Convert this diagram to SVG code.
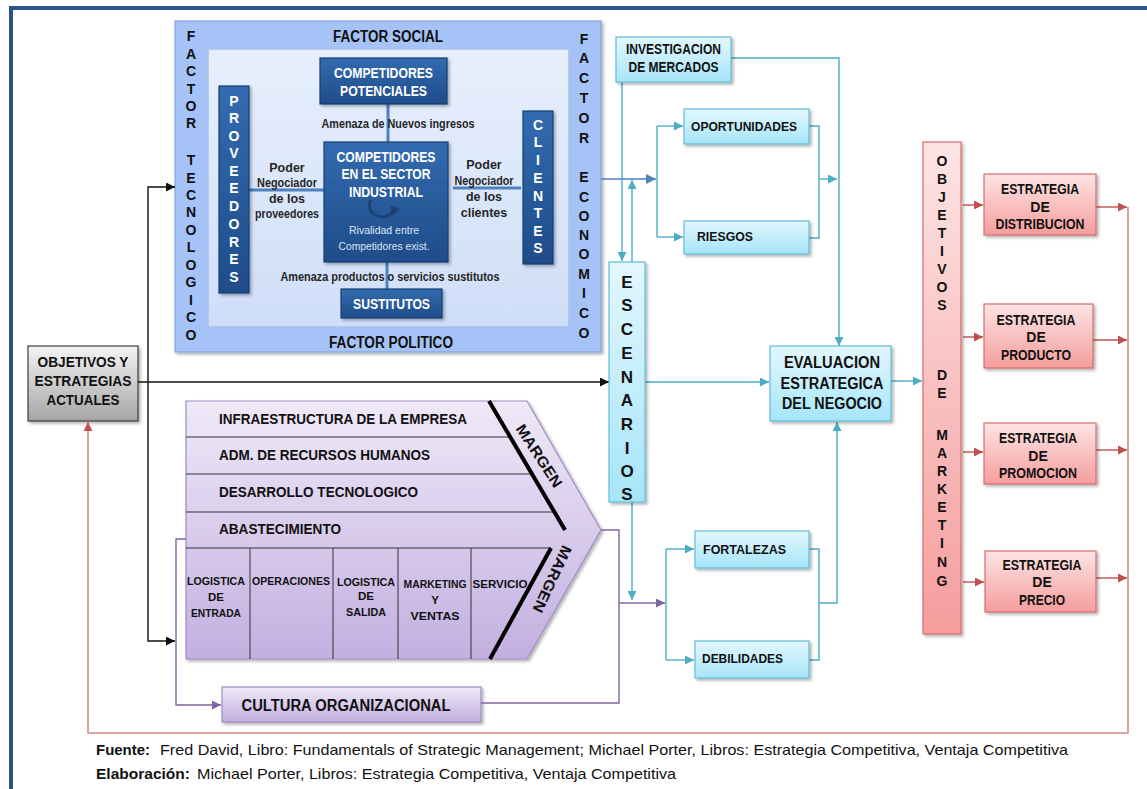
<svg xmlns="http://www.w3.org/2000/svg" width="1147" height="789" viewBox="0 0 1147 789">
  <style>
    text { font-family: "Liberation Sans", Arial, sans-serif; font-weight: bold; fill: #111; }
    .mid { text-anchor: middle; }
    .wh { fill: #fff; }
    .nrm { font-weight: normal; }
    .lbl { fill: #262626; font-size: 12.5px; text-anchor: middle; }
    .riv { fill: #dbe5f3; font-weight: normal; font-size: 11.5px; text-anchor: middle; }
    .vl14 { font-size: 14px; text-anchor: middle; }
    .cy { fill: url(#gCyan); stroke: #62bcd8; stroke-width: 1.2; filter: url(#sh); }
    .pk { fill: url(#gPink); stroke: #d96c6c; stroke-width: 1.2; filter: url(#sh); }
    .dk { fill: url(#gDark); stroke: #173f72; stroke-width: 1.2; filter: url(#sh); }
    .pu { fill: url(#gPurple); stroke: #9d8bc5; stroke-width: 1.2; filter: url(#sh); }
    .ln { fill: none; stroke-width: 1.4; }
    .k { stroke: #111; }
    .c { stroke: #4bacc6; }
    .b { stroke: #4f81bd; }
    .r { stroke: #c0504d; }
    .rl { stroke: #d98886; stroke-width: 1.6; }
    .p { stroke: #8064a2; }
    .por { fill: none; stroke: #4f81bd; stroke-width: 3; }
    .row { stroke: #333; stroke-width: 1; fill: none; }
    .col { font-size: 11.5px; text-anchor: middle; }
  </style>
  <defs>
    <filter id="sh" x="-10%" y="-10%" width="130%" height="130%">
      <feDropShadow dx="2" dy="2" stdDeviation="1.4" flood-color="#000" flood-opacity="0.3"/>
    </filter>
    <linearGradient id="gCyan" x1="0" y1="0" x2="0" y2="1">
      <stop offset="0" stop-color="#e3f7fd"/><stop offset="1" stop-color="#a6e5f9"/>
    </linearGradient>
    <linearGradient id="gPink" x1="0" y1="0" x2="0" y2="1">
      <stop offset="0" stop-color="#fde4e4"/><stop offset="1" stop-color="#f59d9d"/>
    </linearGradient>
    <linearGradient id="gGray" x1="0" y1="0" x2="0" y2="1">
      <stop offset="0" stop-color="#f4f4f4"/><stop offset="1" stop-color="#a5a5a5"/>
    </linearGradient>
    <linearGradient id="gPurple" x1="0" y1="0" x2="0" y2="1">
      <stop offset="0" stop-color="#efe9f8"/><stop offset="1" stop-color="#c3afe0"/>
    </linearGradient>
    <linearGradient id="gDark" x1="0" y1="0" x2="0" y2="1">
      <stop offset="0" stop-color="#336bb0"/><stop offset="1" stop-color="#1f4c89"/>
    </linearGradient>
    <linearGradient id="gInner" x1="0" y1="0" x2="0" y2="1">
      <stop offset="0" stop-color="#e7effc"/><stop offset="1" stop-color="#cfdef8"/>
    </linearGradient>
    <marker id="aK" viewBox="0 0 10 10" refX="10" refY="5" markerWidth="9" markerHeight="9" markerUnits="userSpaceOnUse" orient="auto"><path d="M0,0 L10,5 L0,10 z" fill="#111"/></marker>
    <marker id="aC" viewBox="0 0 10 10" refX="10" refY="5" markerWidth="9" markerHeight="9" markerUnits="userSpaceOnUse" orient="auto"><path d="M0,0 L10,5 L0,10 z" fill="#4bacc6"/></marker>
    <marker id="aB" viewBox="0 0 10 10" refX="10" refY="5" markerWidth="10" markerHeight="10" markerUnits="userSpaceOnUse" orient="auto"><path d="M0,0 L10,5 L0,10 z" fill="#4f81bd"/></marker>
    <marker id="aR" viewBox="0 0 10 10" refX="10" refY="5" markerWidth="9" markerHeight="9" markerUnits="userSpaceOnUse" orient="auto"><path d="M0,0 L10,5 L0,10 z" fill="#c0504d"/></marker>
    <marker id="aP" viewBox="0 0 10 10" refX="10" refY="5" markerWidth="9" markerHeight="9" markerUnits="userSpaceOnUse" orient="auto"><path d="M0,0 L10,5 L0,10 z" fill="#8064a2"/></marker>
  </defs>

  <rect width="1147" height="789" fill="#fff"/>
  <!-- page frame -->
  <rect x="9" y="6" width="1138" height="4" fill="#2b5487"/>
  <rect x="9" y="6" width="4" height="783" fill="#2b5487"/>

  <!-- environment factors around Porter's five forces -->
  <g id="factores">
    <rect x="175" y="21" width="426" height="331" fill="#a5c3f6" stroke="#84a5dd" stroke-width="1.2" filter="url(#sh)"/>
    <rect x="208" y="49" width="361" height="278" fill="url(#gInner)" stroke="#a9c1ec" stroke-width="1.5"/>
    <text x="388" y="42" class="mid" font-size="16" textLength="110" lengthAdjust="spacingAndGlyphs">FACTOR SOCIAL</text>
    <text x="391" y="348" class="mid" font-size="16" textLength="124" lengthAdjust="spacingAndGlyphs">FACTOR POLITICO</text>
    <g class="vl14">
      <text x="191" y="41">F</text><text x="191" y="59">A</text><text x="191" y="76">C</text>
      <text x="191" y="94">T</text><text x="191" y="111">O</text><text x="191" y="128">R</text>
      <text x="191" y="165">T</text><text x="191" y="183">E</text><text x="191" y="200">C</text>
      <text x="191" y="217">N</text><text x="191" y="235">O</text><text x="191" y="252">L</text>
      <text x="191" y="270">O</text><text x="191" y="287">G</text><text x="191" y="305">I</text>
      <text x="191" y="322">C</text><text x="191" y="340">O</text>
      <text x="584" y="44">F</text><text x="584" y="63">A</text><text x="584" y="83">C</text>
      <text x="584" y="103">T</text><text x="584" y="123">O</text><text x="584" y="143">R</text>
      <text x="584" y="182">E</text><text x="584" y="202">C</text><text x="584" y="221">O</text>
      <text x="584" y="240">N</text><text x="584" y="259">O</text><text x="584" y="279">M</text>
      <text x="584" y="298">I</text><text x="584" y="318">C</text><text x="584" y="338">O</text>
    </g>
    <!-- five forces connectors -->
    <path class="por" d="M388,104 V142 M387,262 V289 M249,190 H324 M453,188 H521"/>
    <text x="398" y="127.7" class="lbl" font-size="13" textLength="153" lengthAdjust="spacingAndGlyphs">Amenaza  de  Nuevos ingresos</text>
    <text x="390" y="280.7" class="lbl" font-size="13" textLength="219" lengthAdjust="spacingAndGlyphs">Amenaza  productos  o servicios  sustitutos</text>
    <text class="lbl"><tspan x="287" y="171.5">Poder</tspan><tspan x="287" y="186.5" textLength="60" lengthAdjust="spacingAndGlyphs">Negociador</tspan><tspan x="287" y="202.5">de los</tspan><tspan x="287" y="217.5" textLength="64" lengthAdjust="spacingAndGlyphs">proveedores</tspan></text>
    <text class="lbl"><tspan x="484" y="168.5">Poder</tspan><tspan x="484" y="184.5" textLength="59" lengthAdjust="spacingAndGlyphs">Negociador</tspan><tspan x="484" y="200.5">de los</tspan><tspan x="484" y="216.5">clientes</tspan></text>
  </g>

  <g id="proveedores">
    <rect x="219" y="86" width="30" height="207" class="dk"/>
    <g class="vl14">
      <text x="234" y="106" class="wh">P</text><text x="234" y="123" class="wh">R</text><text x="234" y="141" class="wh">O</text>
      <text x="234" y="158" class="wh">V</text><text x="234" y="176" class="wh">E</text><text x="234" y="193" class="wh">E</text>
      <text x="234" y="211" class="wh">D</text><text x="234" y="229" class="wh">O</text><text x="234" y="247" class="wh">R</text>
      <text x="234" y="264" class="wh">E</text><text x="234" y="282" class="wh">S</text>
    </g>
  </g>

  <g id="clientes">
    <rect x="523" y="111" width="30" height="153" class="dk"/>
    <g class="vl14">
      <text x="538" y="130" class="wh">C</text><text x="538" y="147" class="wh">L</text><text x="538" y="165" class="wh">I</text>
      <text x="538" y="183" class="wh">E</text><text x="538" y="201" class="wh">N</text><text x="538" y="218" class="wh">T</text>
      <text x="538" y="236" class="wh">E</text><text x="538" y="253" class="wh">S</text>
    </g>
  </g>

  <g id="potenciales">
    <rect x="320" y="58" width="127" height="46" class="dk"/>
    <text x="383.5" y="78.4" class="mid wh" font-size="15" textLength="99" lengthAdjust="spacingAndGlyphs">COMPETIDORES</text>
    <text x="383.5" y="96.4" class="mid wh" font-size="15" textLength="87" lengthAdjust="spacingAndGlyphs">POTENCIALES</text>
  </g>

  <g id="sector">
    <rect x="324" y="142" width="124" height="120" class="dk"/>
    <text x="386" y="162.4" class="mid wh" font-size="15" textLength="99" lengthAdjust="spacingAndGlyphs">COMPETIDORES</text>
    <text x="386" y="179.4" class="mid wh" font-size="15" textLength="89" lengthAdjust="spacingAndGlyphs">EN EL SECTOR</text>
    <text x="386" y="197.4" class="mid wh" font-size="15" textLength="74" lengthAdjust="spacingAndGlyphs">INDUSTRIAL</text>
    <path d="M371,200 A13,11 0 0 0 394,211" fill="none" stroke="#1c3d69" stroke-width="3" opacity="0.8"/>
    <path d="M390,205 L400,209 L392,216 z" fill="#1c3d69" opacity="0.8"/>
    <text x="384" y="234" class="riv" textLength="70" lengthAdjust="spacingAndGlyphs">Rivalidad entre</text>
    <text x="384" y="250" class="riv" textLength="91" lengthAdjust="spacingAndGlyphs">Competidores  exist.</text>
  </g>

  <g id="sustitutos">
    <rect x="341" y="289" width="101" height="29" class="dk"/>
    <text x="391.5" y="309.4" class="mid wh" font-size="15" textLength="77" lengthAdjust="spacingAndGlyphs">SUSTITUTOS</text>
  </g>

  <!-- value chain -->
  <g id="cadena-valor">
    <path d="M186,401 H527 L601,530 L527,659 H186 Z" class="pu"/>
    <path class="row" d="M186,437 H510 M186,474 H532 M186,512 H554 M186,548 H551 M250,548 V659 M333,548 V659 M398,548 V659 M471,548 V659"/>
    <path d="M489,401 L565,530 M551,548 L490,659" stroke="#000" stroke-width="4" fill="none"/>
    <g font-size="15">
      <text x="219" y="424.4" textLength="248" lengthAdjust="spacingAndGlyphs">INFRAESTRUCTURA DE LA EMPRESA</text>
      <text x="219" y="460.4" textLength="211" lengthAdjust="spacingAndGlyphs">ADM. DE RECURSOS HUMANOS</text>
      <text x="219" y="497.4" textLength="199" lengthAdjust="spacingAndGlyphs">DESARROLLO TECNOLOGICO</text>
      <text x="219" y="534.4" textLength="122" lengthAdjust="spacingAndGlyphs">ABASTECIMIENTO</text>
    </g>
    <text class="col"><tspan x="216" y="585" textLength="58" lengthAdjust="spacingAndGlyphs">LOGISTICA</tspan><tspan x="216" y="601">DE</tspan><tspan x="216" y="617" textLength="50" lengthAdjust="spacingAndGlyphs">ENTRADA</tspan></text>
    <text class="col" x="291" y="585" textLength="78" lengthAdjust="spacingAndGlyphs">OPERACIONES</text>
    <text class="col"><tspan x="366" y="586" textLength="58" lengthAdjust="spacingAndGlyphs">LOGISTICA</tspan><tspan x="366" y="600">DE</tspan><tspan x="366" y="616" textLength="40" lengthAdjust="spacingAndGlyphs">SALIDA</tspan></text>
    <text class="col"><tspan x="435" y="588" textLength="63" lengthAdjust="spacingAndGlyphs">MARKETING</tspan><tspan x="435" y="604">Y</tspan><tspan x="435" y="620" textLength="49" lengthAdjust="spacingAndGlyphs">VENTAS</tspan></text>
    <text class="col" x="500" y="588" textLength="55" lengthAdjust="spacingAndGlyphs">SERVICIO</text>
    <text transform="translate(539,456) rotate(57)" class="mid" font-size="15" dy="5" textLength="72" lengthAdjust="spacingAndGlyphs">MARGEN</text>
    <text transform="translate(552,579) rotate(115)" class="mid" font-size="15" dy="5" textLength="72" lengthAdjust="spacingAndGlyphs">MARGEN</text>
  </g>

  <g id="cultura">
    <rect x="222" y="687" width="259" height="35" class="pu"/>
    <text x="346" y="710.7" class="mid" font-size="16" textLength="209" lengthAdjust="spacingAndGlyphs">CULTURA ORGANIZACIONAL</text>
  </g>

  <g id="objetivos-actuales">
    <rect x="28" y="346" width="110" height="75" fill="url(#gGray)" stroke="#3c3c3c" stroke-width="1.2" filter="url(#sh)"/>
    <text x="83" y="367.4" class="mid" font-size="15" textLength="91" lengthAdjust="spacingAndGlyphs">OBJETIVOS Y</text>
    <text x="83" y="386.4" class="mid" font-size="15" textLength="97" lengthAdjust="spacingAndGlyphs">ESTRATEGIAS</text>
    <text x="83" y="405.4" class="mid" font-size="15" textLength="73" lengthAdjust="spacingAndGlyphs">ACTUALES</text>
  </g>

  <!-- connectors -->
  <g id="conectores">
    <path class="ln k" d="M138,382 H609" marker-end="url(#aK)"/>
    <path class="ln k" d="M148,382 V187 H175" marker-end="url(#aK)"/>
    <path class="ln k" d="M148,382 V641 H175" marker-end="url(#aK)"/>
    <path class="ln c" d="M731,58 H839 V346" marker-end="url(#aC)"/>
    <path class="ln c" d="M622,82 V261" marker-end="url(#aC)"/>
    <path class="ln c" d="M632,262 V180" marker-end="url(#aC)"/>
    <path class="ln b" d="M601,179 H656" marker-end="url(#aB)"/>
    <path class="ln c" d="M657,126 V237"/>
    <path class="ln c" d="M657,126 H683" marker-end="url(#aC)"/>
    <path class="ln c" d="M657,237 H683" marker-end="url(#aC)"/>
    <path class="ln c" d="M809,126 H819 V238 H809"/>
    <path class="ln c" d="M819,179 H837" marker-end="url(#aC)"/>
    <path class="ln c" d="M645,382 H769" marker-end="url(#aC)"/>
    <path class="ln c" d="M891,381 H922" marker-end="url(#aC)"/>
    <path class="ln c" d="M632,502 V600" marker-end="url(#aC)"/>
    <path class="ln c" d="M666,549 V660"/>
    <path class="ln c" d="M666,549 H694" marker-end="url(#aC)"/>
    <path class="ln c" d="M666,660 H694" marker-end="url(#aC)"/>
    <path class="ln c" d="M809,549 H819 V660 H809"/>
    <path class="ln c" d="M819,603 H837 V422" marker-end="url(#aC)"/>
    <path class="ln p" d="M601,530 H619 V703 H481"/>
    <path class="ln p" d="M619,603 H665" marker-end="url(#aP)"/>
    <path class="ln p" d="M186,539 H176 V705 H221" marker-end="url(#aP)"/>
    <path class="ln r" d="M963,205 H983" marker-end="url(#aR)"/>
    <path class="ln r" d="M963,337 H983" marker-end="url(#aR)"/>
    <path class="ln r" d="M963,452 H983" marker-end="url(#aR)"/>
    <path class="ln r" d="M963,582 H984" marker-end="url(#aR)"/>
    <path class="ln r" d="M1096,207 H1127" marker-end="url(#aR)"/>
    <path class="ln r" d="M1093,340 H1127" marker-end="url(#aR)"/>
    <path class="ln r" d="M1096,450 H1127" marker-end="url(#aR)"/>
    <path class="ln r" d="M1096,578 H1127" marker-end="url(#aR)"/>
    <path class="ln rl" d="M1128,207 V733 H88 V422" marker-end="url(#aR)"/>
  </g>

  <g id="investigacion">
    <rect x="616" y="37" width="115" height="45" class="cy"/>
    <text x="673.5" y="54.2" class="mid" font-size="14.5" textLength="95" lengthAdjust="spacingAndGlyphs">INVESTIGACION</text>
    <text x="673.5" y="72.2" class="mid" font-size="14.5" textLength="90" lengthAdjust="spacingAndGlyphs">DE MERCADOS</text>
  </g>

  <g id="oportunidades">
    <rect x="684" y="109" width="125" height="35" class="cy"/>
    <text x="744" y="130.7" class="mid" font-size="13" textLength="106" lengthAdjust="spacingAndGlyphs">OPORTUNIDADES</text>
  </g>

  <g id="riesgos">
    <rect x="684" y="221" width="125" height="33" class="cy"/>
    <text x="725" y="240.7" class="mid" font-size="13" textLength="56" lengthAdjust="spacingAndGlyphs">RIESGOS</text>
  </g>

  <g id="escenarios">
    <rect x="609" y="262" width="36" height="240" class="cy"/>
    <g class="mid" font-size="17">
      <text x="627" y="288">E</text><text x="627" y="311">S</text><text x="627" y="335">C</text>
      <text x="627" y="359">E</text><text x="627" y="383">N</text><text x="627" y="406">A</text>
      <text x="627" y="430">R</text><text x="627" y="454">I</text><text x="627" y="477">O</text>
      <text x="627" y="500">S</text>
    </g>
  </g>

  <g id="evaluacion">
    <rect x="770" y="346" width="121" height="75" class="cy"/>
    <text x="832" y="367.7" class="mid" font-size="16" textLength="96" lengthAdjust="spacingAndGlyphs">EVALUACION</text>
    <text x="832" y="388.7" class="mid" font-size="16" textLength="103" lengthAdjust="spacingAndGlyphs">ESTRATEGICA</text>
    <text x="832" y="408.7" class="mid" font-size="16" textLength="100" lengthAdjust="spacingAndGlyphs">DEL NEGOCIO</text>
  </g>

  <g id="fortalezas">
    <rect x="695" y="531" width="114" height="37" class="cy"/>
    <text x="744.5" y="553.7" class="mid" font-size="13" textLength="83" lengthAdjust="spacingAndGlyphs">FORTALEZAS</text>
  </g>

  <g id="debilidades">
    <rect x="695" y="641" width="114" height="37" class="cy"/>
    <text x="742.5" y="662.7" class="mid" font-size="13" textLength="81" lengthAdjust="spacingAndGlyphs">DEBILIDADES</text>
  </g>

  <g id="objetivos-marketing">
    <rect x="923" y="142" width="38" height="492" class="pk"/>
    <g class="vl14">
      <text x="942" y="166">O</text><text x="942" y="184">B</text><text x="942" y="202">J</text>
      <text x="942" y="220">E</text><text x="942" y="238">T</text><text x="942" y="256">I</text>
      <text x="942" y="274">V</text><text x="942" y="292">O</text><text x="942" y="310">S</text>
      <text x="942" y="380">D</text><text x="942" y="398">E</text>
      <text x="942" y="440">M</text><text x="942" y="458">A</text><text x="942" y="476">R</text>
      <text x="942" y="494">K</text><text x="942" y="512">E</text><text x="942" y="530">T</text>
      <text x="942" y="548">I</text><text x="942" y="567">N</text><text x="942" y="586">G</text>
    </g>
  </g>

  <g id="estrategia-distribucion">
    <rect x="984" y="174" width="112" height="61" class="pk"/>
    <text x="1040" y="194" class="mid" font-size="14" textLength="78" lengthAdjust="spacingAndGlyphs">ESTRATEGIA</text>
    <text x="1040" y="212" class="mid" font-size="14">DE</text>
    <text x="1040" y="229" class="mid" font-size="14" textLength="89" lengthAdjust="spacingAndGlyphs">DISTRIBUCION</text>
  </g>

  <g id="estrategia-producto">
    <rect x="984" y="304" width="109" height="64" class="pk"/>
    <text x="1036" y="325" class="mid" font-size="14" textLength="79" lengthAdjust="spacingAndGlyphs">ESTRATEGIA</text>
    <text x="1036" y="342" class="mid" font-size="14">DE</text>
    <text x="1036" y="360" class="mid" font-size="14" textLength="70" lengthAdjust="spacingAndGlyphs">PRODUCTO</text>
  </g>

  <g id="estrategia-promocion">
    <rect x="984" y="423" width="112" height="61" class="pk"/>
    <text x="1038" y="443" class="mid" font-size="14" textLength="78" lengthAdjust="spacingAndGlyphs">ESTRATEGIA</text>
    <text x="1038" y="461" class="mid" font-size="14">DE</text>
    <text x="1038" y="478" class="mid" font-size="14" textLength="78" lengthAdjust="spacingAndGlyphs">PROMOCION</text>
  </g>

  <g id="estrategia-precio">
    <rect x="985" y="551" width="111" height="61" class="pk"/>
    <text x="1042" y="570" class="mid" font-size="14" textLength="79" lengthAdjust="spacingAndGlyphs">ESTRATEGIA</text>
    <text x="1042" y="587" class="mid" font-size="14">DE</text>
    <text x="1042" y="605" class="mid" font-size="14" textLength="46" lengthAdjust="spacingAndGlyphs">PRECIO</text>
  </g>

  <!-- sources -->
  <g id="fuente" font-size="15">
    <text x="96" y="754.5" textLength="54" lengthAdjust="spacingAndGlyphs">Fuente:</text>
    <text x="160" y="754.5" class="nrm" textLength="908" lengthAdjust="spacingAndGlyphs">Fred David, Libro: Fundamentals of Strategic Management; Michael Porter, Libros: Estrategia Competitiva, Ventaja Competitiva</text>
    <text x="96" y="778.5" textLength="94" lengthAdjust="spacingAndGlyphs">Elaboración:</text>
    <text x="197" y="778.5" class="nrm" textLength="479" lengthAdjust="spacingAndGlyphs">Michael Porter, Libros: Estrategia Competitiva, Ventaja Competitiva</text>
  </g>
</svg>
